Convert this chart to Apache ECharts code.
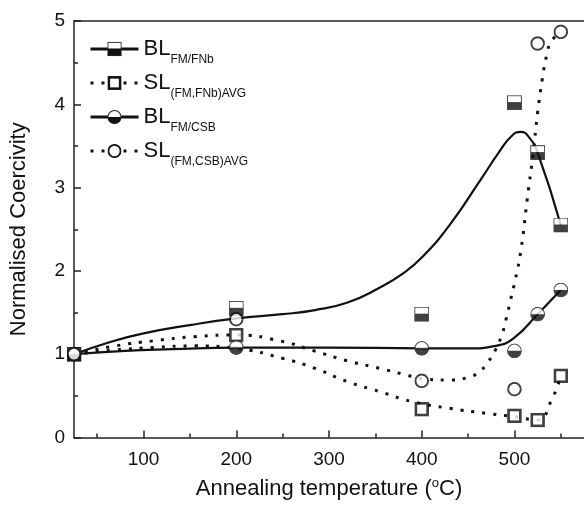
<!DOCTYPE html>
<html>
<head>
<meta charset="utf-8">
<script src="https://cdn.jsdelivr.net/npm/echarts@6/dist/echarts.min.js"></script>
<style>
  html, body { margin: 0; padding: 0; background: #fff; }
  #chart { width: 584px; height: 505px; }
</style>
</head>
<body>
<div id="chart"></div>
<script>
// Measured coercivity, normalised to the as-deposited value (25 °C)
const temps = [25, 200, 400, 500, 525, 550];
const blFnb = [1.00, 1.55, 1.48, 4.02, 3.42, 2.55];
const slFnb = [1.00, 1.23, 0.34, 0.26, 0.21, 0.74];
const blCsb = [1.00, 1.08, 1.07, 1.04, 1.48, 1.77];
const slCsb = [1.00, 1.42, 0.68, 0.58, 4.73, 4.87];

// Guide curves drawn through each data set
const blFnbCurveT = [25, 65, 100, 150, 200, 250, 285, 320, 355, 380, 400, 430, 465, 483, 497, 507, 516, 525, 550];
const blFnbCurveV = [1.00, 1.15, 1.25, 1.35, 1.43, 1.48, 1.53, 1.62, 1.80, 1.97, 2.16, 2.55, 3.12, 3.42, 3.62, 3.67, 3.60, 3.42, 2.55];
const slFnbCurveT = [25, 70, 110, 155, 200, 250, 285, 320, 355, 390, 430, 470, 500, 525, 540, 550];
const slFnbCurveV = [1.00, 1.05, 1.08, 1.10, 1.07, 0.95, 0.83, 0.67, 0.55, 0.43, 0.35, 0.29, 0.25, 0.21, 0.45, 0.74];
const blCsbCurveT = [25, 80, 130, 200, 300, 400, 450, 480, 500, 525, 550];
const blCsbCurveV = [1.00, 1.04, 1.06, 1.08, 1.08, 1.07, 1.07, 1.10, 1.20, 1.48, 1.77];
const slCsbCurveT = [25, 70, 110, 155, 200, 247, 284, 320, 355, 380, 405, 426, 450, 463, 471, 479, 486, 491, 496, 501, 507, 514, 520, 525, 530, 535, 540, 550];
const slCsbCurveV = [1.00, 1.10, 1.16, 1.21, 1.23, 1.16, 1.04, 0.92, 0.83, 0.76, 0.70, 0.69, 0.72, 0.80, 0.90, 1.04, 1.22, 1.42, 1.66, 1.90, 2.25, 2.88, 3.40, 3.90, 4.30, 4.60, 4.76, 4.87];

// Axis ticks
const xMajorTicks = [100, 200, 300, 400, 500];
const xMinorTicks = [50, 150, 250, 350, 450, 550];

// Legend labels: main text + subscript
const seriesNames = ['BL_FM/FNb', 'SL_(FM,FNb)AVG', 'BL_FM/CSB', 'SL_(FM,CSB)AVG'];
const legendMain = ['BL', 'SL', 'BL', 'SL'];
const legendSub = ['FM/FNb', '(FM,FNb)AVG', 'FM/CSB', '(FM,CSB)AVG'];

const FONT = '"Liberation Sans", Arial, sans-serif';
const INK = '#111';

function svgSymbol(body) {
  const svg = "<svg xmlns='http://www.w3.org/2000/svg' width='56' height='56' viewBox='0 0 28 28'>" + body + "</svg>";
  return 'image://data:image/svg+xml;charset=utf-8,' + encodeURIComponent(svg);
}
const SYM_HALF_SQUARE = svgSymbol("<rect x='1' y='1' width='26' height='26' fill='#fff' stroke='#222' stroke-width='2'/><rect x='1' y='13' width='26' height='14' fill='#111'/>");
const SYM_OPEN_SQUARE = svgSymbol("<rect x='3' y='3' width='22' height='22' fill='#fff' stroke='#111' stroke-width='5'/>");
const SYM_HALF_CIRCLE = svgSymbol("<circle cx='14' cy='14' r='12.8' fill='#fff' stroke='#222' stroke-width='2'/><path d='M1.2,14 A12.8,12.8 0 0 0 26.8,14 Z' fill='#111'/>");
const SYM_OPEN_CIRCLE = svgSymbol("<circle cx='14' cy='14' r='11.8' fill='#fff' stroke='#111' stroke-width='3.6'/>");

const symbols = [SYM_HALF_SQUARE, SYM_OPEN_SQUARE, SYM_HALF_CIRCLE, SYM_OPEN_CIRCLE];
const pointSets = [blFnb, slFnb, blCsb, slCsb];
const curveSets = [[blFnbCurveT, blFnbCurveV], [slFnbCurveT, slFnbCurveV], [blCsbCurveT, blCsbCurveV], [slCsbCurveT, slCsbCurveV]];
const dashed = [false, true, false, true];

const pair = (xs, ys) => xs.map((x, i) => [x, ys[i]]);

const series = [];
seriesNames.forEach((name, i) => {
  series.push({
    name: name,
    type: 'line',
    data: pair(curveSets[i][0], curveSets[i][1]),
    smooth: 0.5,
    showSymbol: false,
    symbol: symbols[i],
    symbolSize: 14,
    silent: true,
    z: 2,
    lineStyle: dashed[i]
      ? { color: INK, width: 3, type: [3, 8], cap: 'butt' }
      : { color: INK, width: 2.2 },
    itemStyle: { color: INK }
  });
});
seriesNames.forEach((name, i) => {
  series.push({
    name: name + ' points',
    type: 'scatter',
    data: pair(temps, pointSets[i]),
    symbol: symbols[i],
    symbolSize: 15,
    clip: false,
    silent: true,
    z: 5 + i
  });
});

const axisLineStyle = { color: '#222', width: 1.5 };

const option = {
  animation: false,
  backgroundColor: '#fff',
  textStyle: { fontFamily: FONT },
  grid: { left: 69, top: 21, width: 518, height: 422 },
  legend: {
    data: seriesNames,
    orient: 'vertical',
    left: 89,
    top: 32,
    padding: 0,
    itemWidth: 48,
    itemHeight: 18,
    itemGap: 0,
    selectedMode: false,
    lineStyle: { width: 3 },
    formatter: name => {
      const i = seriesNames.indexOf(name);
      return '{m|' + legendMain[i] + '}{s|' + legendSub[i] + '}';
    },
    textStyle: {
      color: INK,
      rich: {
        m: { fontSize: 22, lineHeight: 24, fontFamily: FONT, color: INK },
        s: { fontSize: 12, lineHeight: 12, padding: [22, 0, 0, 0], fontFamily: FONT, color: INK }
      }
    }
  },
  xAxis: [
    {
      type: 'value',
      min: 25,
      max: 575,
      position: 'bottom',
      name: 'Annealing temperature ({sup|o}C)',
      nameLocation: 'middle',
      nameGap: 39,
      nameTextStyle: {
        fontSize: 22,
        color: INK,
        fontFamily: FONT,
        rich: { sup: { fontSize: 13, padding: [0, 0, 12, 0], color: INK, fontFamily: FONT } }
      },
      axisLine: { show: true, onZero: false, lineStyle: axisLineStyle },
      axisTick: { show: true, inside: true, length: 7, customValues: xMajorTicks, lineStyle: axisLineStyle },
      axisLabel: { show: true, customValues: xMajorTicks, fontSize: 19, margin: 13, color: INK, fontFamily: FONT },
      splitLine: { show: false }
    },
    {
      type: 'value',
      min: 25,
      max: 575,
      position: 'bottom',
      axisLine: { show: false },
      axisTick: { show: true, inside: true, length: 4, customValues: xMinorTicks, lineStyle: axisLineStyle },
      axisLabel: { show: false },
      splitLine: { show: false }
    },
    {
      type: 'value',
      min: 25,
      max: 575,
      position: 'top',
      axisLine: { show: true, onZero: false, lineStyle: axisLineStyle },
      axisTick: { show: false },
      axisLabel: { show: false },
      splitLine: { show: false }
    }
  ],
  yAxis: {
    type: 'value',
    min: 0,
    max: 5,
    interval: 1,
    name: 'Normalised Coercivity',
    nameLocation: 'middle',
    nameGap: 44,
    nameTextStyle: { fontSize: 22, color: INK, fontFamily: FONT },
    axisLine: { show: true, onZero: false, lineStyle: axisLineStyle },
    axisTick: { show: true, inside: true, length: 7, lineStyle: axisLineStyle },
    minorTick: { show: true, splitNumber: 2, length: 4, lineStyle: axisLineStyle },
    axisLabel: { fontSize: 19, margin: 9, color: INK, fontFamily: FONT },
    splitLine: { show: false },
    minorSplitLine: { show: false }
  },
  series: series
};

const chart = echarts.init(document.getElementById('chart'), null, { renderer: 'canvas' });
chart.setOption(option);
</script>
</body>
</html>
